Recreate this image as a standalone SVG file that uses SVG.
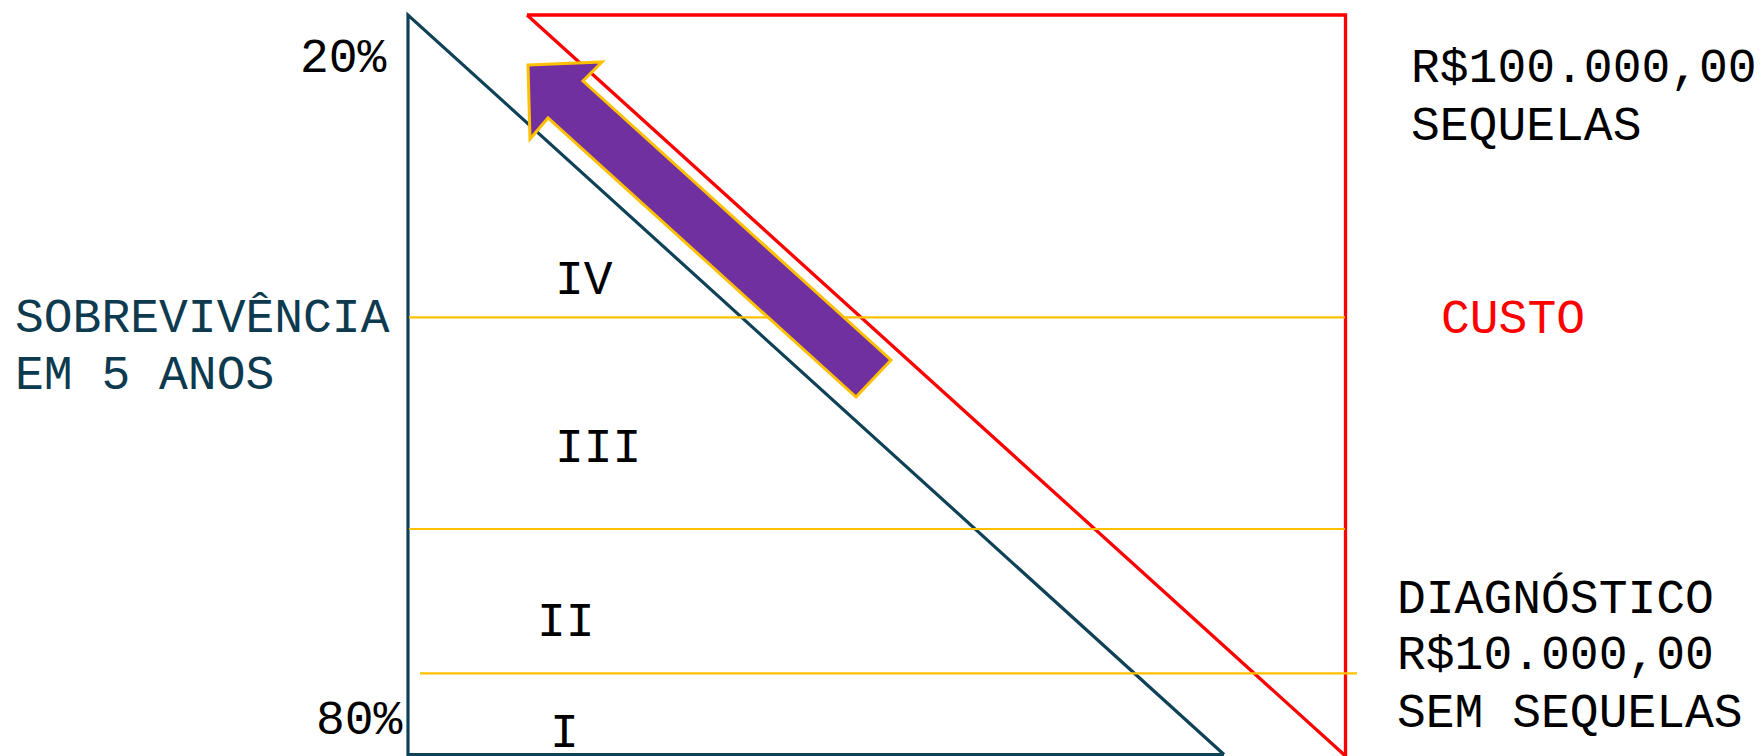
<svg xmlns="http://www.w3.org/2000/svg" width="1764" height="756" viewBox="0 0 1764 756">
<style>
text{font-family:"Liberation Mono","Cousine",monospace;font-size:48px;fill:#000}
.axis{fill:#0D3A4F}
.red{fill:#FF0000}
.blue{fill:none;stroke:#0F4257;stroke-width:3.2}
.redl{fill:none;stroke:#FF0000;stroke-width:3.3}
.yel{stroke:#FFC000;stroke-width:2.2;fill:none}
</style>
<rect width="1764" height="756" fill="#fff"/>
<g id="survival-triangle"><polyline class="blue" points="1224,754.5 408,754.5 408,15 1224,754.5"/></g>
<g id="cost-triangle"><polyline class="redl" points="527,15 1345.5,15 1345.5,756"/><line class="redl" x1="527" y1="15" x2="1345.5" y2="756"/></g>
<g id="stage-lines">
<line class="yel" x1="409" y1="317.3" x2="1345" y2="317.3"/>
<line class="yel" x1="409" y1="529" x2="1345" y2="529"/>
<line class="yel" x1="420" y1="673.3" x2="1357" y2="673.3"/>
</g>
<g id="arrow"><polygon points="528,65 602,62 583,81 891,360 856,397 548,118 530,139" fill="#7030A0" stroke="#FFC000" stroke-width="3"/></g>
<g id="labels">
<text x="300" y="72">20%</text>
<text x="316" y="734">80%</text>
<text class="axis" x="15" y="332">SOBREVIVÊNCIA</text>
<text class="axis" x="15" y="389">EM 5 ANOS</text>
<text x="555" y="294">IV</text>
<text x="555" y="462">III</text>
<text x="537" y="636">II</text>
<text x="550" y="747">I</text>
<text x="1411" y="82">R$100.000,00</text>
<text x="1411" y="140">SEQUELAS</text>
<text class="red" x="1441" y="333">CUSTO</text>
<text x="1397" y="613">DIAGNÓSTICO</text>
<text x="1397" y="669">R$10.000,00</text>
<text x="1397" y="727">SEM SEQUELAS</text>
</g>
</svg>
